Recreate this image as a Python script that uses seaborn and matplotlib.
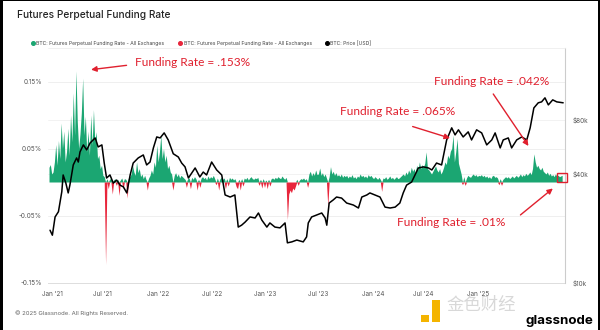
import numpy as np
import pandas as pd
import matplotlib
matplotlib.use("Agg")
import matplotlib.pyplot as plt
from matplotlib.lines import Line2D
from matplotlib.patches import Rectangle, FancyArrowPatch
from matplotlib.transforms import blended_transform_factory
import seaborn as sns

sns.set_theme(style="white")
plt.rcParams["font.family"] = ["Inter", "DejaVu Sans"]

# ---------------- data ----------------
# x axis: days since 2020-12-01
funding_step_days = 4
funding_pct = [
    # Dec 2020 - Feb 2021
    0.022, 0.026, 0.012, 0.015, 0.030, 0.056, 0.025, 0.062, 0.035, 0.088,
    0.050, 0.076, 0.030, 0.045, 0.080, 0.040, 0.100, 0.060, 0.133, 0.070,
    # Feb - May 2021
    0.166, 0.090, 0.050, 0.072, 0.103, 0.155, 0.070, 0.098, 0.045, 0.076,
    0.040, 0.100, 0.055, 0.108, 0.060, 0.075, 0.035, 0.040, 0.020, 0.025,
    # May - Jul 2021
    0.010, 0.008, -0.123, 0.005, -0.010, 0.004, 0.006, -0.018, 0.003, 0.005,
    -0.005, 0.004, -0.020, 0.003, 0.006, -0.010, 0.005, 0.004, -0.024, 0.006,
    # Jul - Oct 2021
    0.008, 0.012, 0.025, 0.015, 0.010, 0.030, 0.014, 0.020, 0.008, 0.012,
    0.005, 0.010, 0.004, -0.012, 0.006, 0.010, 0.018, 0.012, 0.030, 0.022,
    # Oct 2021 - Jan 2022
    0.055, 0.030, 0.045, 0.070, 0.035, 0.050, 0.030, 0.040, 0.020, 0.025,
    0.015, 0.012, -0.012, 0.010, 0.014, 0.008, 0.012, 0.006, 0.010, 0.008,
    # Jan - Mar 2022
    0.006, 0.004, -0.008, 0.005, 0.006, -0.010, 0.007, 0.004, 0.008, 0.005,
    -0.012, 0.004, -0.008, 0.006, 0.008, 0.005, 0.007, 0.003, 0.009, 0.005,
    # Mar - Jun 2022
    0.008, 0.006, 0.010, 0.005, -0.004, 0.006, -0.012, 0.005, 0.007, 0.004,
    0.006, -0.010, 0.005, -0.006, 0.007, 0.004, 0.006, 0.003, 0.005, -0.007,
    # Jun - Aug 2022
    -0.010, 0.004, -0.012, 0.005, -0.006, 0.006, 0.004, 0.007, 0.003, 0.006,
    0.008, 0.005, 0.004, 0.006, 0.005, 0.007, -0.005, 0.004, -0.009, 0.005,
    # Sep - Nov 2022
    -0.008, 0.003, -0.010, 0.004, -0.006, 0.005, 0.006, 0.004, 0.007, 0.005,
    0.008, 0.006, 0.005, 0.009, 0.006, 0.004, 0.007, -0.056, -0.018, -0.012,
    # Nov 2022 - Feb 2023
    -0.016, -0.009, -0.012, -0.006, 0.004, -0.005, 0.003, 0.005, 0.004, 0.006,
    0.003, 0.005, -0.008, 0.012, 0.016, 0.009, 0.014, 0.010, 0.018, 0.011,
    # Feb - Apr 2023
    0.012, 0.021, 0.010, 0.014, 0.008, 0.012, 0.006, -0.036, 0.008, 0.023,
    0.012, 0.016, 0.010, 0.014, 0.009, 0.011, 0.008, 0.012, 0.007, 0.010,
    # Apr - Jul 2023
    0.008, 0.010, 0.006, 0.009, 0.007, 0.011, 0.006, 0.008, 0.005, 0.009,
    0.007, 0.012, 0.008, 0.010, 0.007, 0.009, 0.006, 0.011, 0.008, 0.010,
    # Jul - Oct 2023
    0.007, 0.005, 0.008, 0.006, 0.004, 0.007, 0.004, -0.014, 0.006, 0.005,
    0.008, 0.004, 0.006, 0.009, 0.005, 0.007, 0.004, 0.006, 0.008, 0.005,
    # Oct - Dec 2023
    0.006, 0.008, 0.010, 0.012, 0.009, 0.015, 0.011, 0.018, 0.013, 0.022,
    0.016, 0.020, 0.014, 0.025, 0.018, 0.030, 0.020, 0.026, 0.022, 0.028,
    # Dec 2023 - Mar 2024
    0.045, 0.020, 0.018, 0.015, 0.012, 0.016, 0.020, 0.024, 0.018, 0.015,
    0.020, 0.012, 0.016, 0.022, 0.030, 0.026, 0.040, 0.035, 0.046, 0.050,
    # Mar - May 2024
    0.070, 0.030, 0.045, 0.065, 0.028, 0.020, 0.012, -0.004, 0.008, -0.005,
    0.006, 0.010, 0.008, 0.007, 0.010, 0.012, 0.009, 0.011, 0.008, 0.010,
    # Jun - Aug 2024
    0.009, 0.011, 0.008, 0.010, 0.007, 0.009, 0.006, 0.008, 0.005, 0.009,
    0.010, 0.007, 0.008, 0.006, -0.004, 0.005, -0.005, 0.004, 0.006, 0.008,
    # Aug - Nov 2024
    0.006, 0.008, 0.005, 0.007, 0.009, 0.006, 0.008, 0.010, 0.007, 0.009,
    0.012, 0.008, 0.011, 0.009, 0.013, 0.010, 0.012, 0.015, 0.011, 0.020,
    # Nov 2024 - Jan 2025
    0.042, 0.030, 0.022, 0.025, 0.020, 0.018, 0.022, 0.016, 0.014, 0.012,
    0.015, 0.010, 0.013, 0.009, 0.011, 0.008, 0.012, 0.009, 0.010, 0.008,
    0.009, 0.010,
]

price_day = [
    3, 10, 18, 28, 38, 42, 50, 57, 62, 72, 82, 87, 92, 102, 112, 122, 137, 146,
    157, 164, 171, 181, 191, 201, 211, 221, 231, 241, 250, 265, 280, 290, 300,
    310, 320, 330, 342, 354, 369, 384, 394, 404, 414, 424, 434, 448, 458, 468,
    483, 498, 513, 523, 538, 552, 562, 572, 582, 597, 612, 622, 632, 647, 656,
    671, 686, 701, 708, 721, 736, 755, 765, 770, 780, 795, 810, 820, 825, 832,
    844, 854, 869, 884, 904, 919, 929, 944, 953, 983, 998, 1013, 1028, 1042,
    1052, 1062, 1077, 1097, 1112, 1127, 1137, 1151, 1166, 1181, 1196, 1206,
    1216, 1230, 1245, 1255, 1270, 1285, 1300, 1315, 1325, 1340, 1349, 1364,
    1374, 1389, 1404, 1419, 1429, 1440, 1453, 1463, 1473, 1483, 1496, 1508,
    1527,
]
price_usd = [
    19500, 18300, 23100, 24700, 31900, 39500, 35600, 31400, 34700, 44900,
    49100, 46600, 53000, 58000, 54400, 59400, 63400, 56500, 58000, 46000,
    38000, 39500, 35600, 37000, 34700, 33900, 31400, 39500, 46000, 49100,
    51000, 44900, 46600, 55800, 64200, 63400, 67600, 61800, 51800, 49700,
    46000, 43800, 38000, 40500, 43200, 38500, 41000, 39500, 46600, 42100,
    39500, 30600, 29800, 30600, 20300, 20800, 21600, 23100, 22800, 24300,
    22200, 20300, 21400, 20300, 20100, 21400, 16600, 16800, 17200, 16800,
    17900, 21400, 23100, 23700, 24300, 22800, 20800, 27600, 28700, 29800,
    29400, 27600, 26900, 25900, 29800, 30600, 31400, 29800, 26200, 25900,
    26200, 27600, 31400, 34700, 36100, 43200, 43800, 43200, 42100, 46000,
    44900, 61800, 72100, 65900, 70300, 64200, 68500, 61800, 70300, 67600,
    58000, 61800, 67600, 55800, 61800, 63400, 55800, 61800, 64200, 61800,
    72100, 93000, 99300, 100500, 105800, 96700, 103100, 100500, 99300,
]

pct_ticks = [0.15, 0.05, -0.05, -0.15]
pct_labels = ["0.15%", "0.05%", "-0.05%", "-0.15%"]
usd_ticks = [10000, 40000, 80000]
usd_labels = ["$10k", "$40k", "$80k"]
x_tick_day = [9, 160, 324, 484, 642, 799, 962, 1111, 1274]
x_tick_labels = ["Jan '21", "Jul '21", "Jan '22", "Jul '22", "Jan '23",
                 "Jul '23", "Jan '24", "Jul '24", "Jan '25"]

legend_labels = ["BTC: Futures Perpetual Funding Rate - All Exchanges",
                 "BTC: Futures Perpetual Funding Rate - All Exchanges",
                 "BTC: Price [USD]"]
annotations = ["Funding Rate = .153%", "Funding Rate = .065%",
               "Funding Rate = .042%", "Funding Rate = .01%"]

# ---------------- figure ----------------
W, H = 600, 330
GREEN = "#1ba672"
RED = "#e8253b"
ANN = "#e0202e"
GRAY = "#555555"

fig = plt.figure(figsize=(W / 100, H / 100), dpi=100)
fig.patch.set_facecolor("white")

def fx(x):
    return x / W

def fy(y):
    return 1 - y / H

L, R, T, B = 48, 564.5, 48, 282.5
ax = fig.add_axes([fx(L), fy(B), (R - L) / W, (B - T) / H])
ax.set_facecolor("white")
ax2 = ax.twinx()

# grid lines (under everything, on the lower axes)
for yv in pct_ticks:
    ax.axhline(yv, color="#ececec", lw=0.6, zorder=0)
usd_grid_tf = blended_transform_factory(ax.transAxes, ax2.transData)
for yv in usd_ticks:
    ax.add_line(Line2D([0, 1], [yv, yv], transform=usd_grid_tf,
                       color="#f0f0f0", lw=0.6, zorder=0))

fdf = pd.DataFrame({"day": np.arange(len(funding_pct)) * funding_step_days,
                    "rate": funding_pct})
pos = fdf["rate"].clip(lower=0)
neg = fdf["rate"].clip(upper=0)
ax.fill_between(fdf["day"], 0, pos, facecolor=GREEN, lw=0, zorder=2)
ax.fill_between(fdf["day"], 0, neg, facecolor=RED, lw=0, zorder=2)

ax.set_xlim(-3, 1531)
ax.set_ylim(-0.15, 0.20)
ax.set_yticks(pct_ticks)
ax.set_yticklabels(pct_labels)
ax.set_xticks(x_tick_day)
ax.set_xticklabels(x_tick_labels)
ax.tick_params(axis="both", length=0, labelsize=4.6, colors=GRAY)
ax.tick_params(axis="y", pad=4.5)
ax.tick_params(axis="x", pad=6)
for s in ["left", "top", "right"]:
    ax.spines[s].set_visible(False)
ax.spines["bottom"].set_color("#dddddd")
ax.spines["bottom"].set_linewidth(0.7)

pdf = pd.DataFrame({"day": price_day, "price": price_usd})
sns.lineplot(data=pdf, x="day", y="price", ax=ax2, color="black", lw=1.1,
             zorder=5)
ax2.set_yscale("log")
ax2.set_ylim(10000, 200000)
ax2.set_yticks(usd_ticks)
ax2.set_yticklabels(usd_labels)
ax2.minorticks_off()
ax2.set_ylabel("")
ax2.set_xlabel("")
ax.set_xlabel("")
ax2.tick_params(axis="y", length=0, labelsize=4.6, colors=GRAY, pad=5.5)
for s in ["left", "top", "bottom"]:
    ax2.spines[s].set_visible(False)
ax2.spines["right"].set_color("#cccccc")
ax2.spines["right"].set_linewidth(0.8)
ax2.set_xlim(-3, 1531)

# top frame line of chart area
fig.add_artist(Line2D([fx(L), fx(R)], [fy(T), fy(T)], color="#eeeeee", lw=0.6))

# title
fig.text(fx(17), fy(15), "Futures Perpetual Funding Rate", fontsize=7.3,
         fontweight="medium", color="#222222", va="center", ha="left")

# legend
leg_x = [32.7, 180, 326.7]
leg_c = [GREEN, RED, "black"]
for lx, lc, lt in zip(leg_x, leg_c, legend_labels):
    fig.add_artist(Line2D([fx(lx)], [fy(43.3)], marker="o", ms=2.6, color=lc,
                          lw=0))
    fig.text(fx(lx + 3.5), fy(43.3), lt, fontsize=3.65, color="#444444",
             va="center", ha="left")

# annotations
ann_font = dict(fontsize=8.6, color=ANN, family=["Lato", "DejaVu Sans"],
                va="center", ha="left")
fig.text(fx(135), fy(63), annotations[0], **ann_font)
fig.text(fx(340), fy(111), annotations[1], **ann_font)
fig.text(fx(434), fy(81.7), annotations[2], **ann_font)
fig.text(fx(397), fy(222.7), annotations[3], **ann_font)

arrows = [((129.3, 65), (88.3, 70)), ((410, 125.7), (452.7, 139)),
          ((491.7, 91.7), (530, 148.3)), ((518.3, 216.7), (555, 186.7))]
for (x0, y0), (x1, y1) in arrows:
    fig.add_artist(FancyArrowPatch(
        (fx(x0), fy(y0)), (fx(x1), fy(y1)), transform=fig.transFigure,
        arrowstyle="-|>,head_length=3.2,head_width=1.6", color=ANN, lw=1.0))

fig.add_artist(Rectangle((fx(556.5), fy(181.5)), (567 - 556.5) / W,
                         (181.5 - 173) / H, transform=fig.transFigure,
                         fill=False, edgecolor=ANN, lw=1.0))

# footer
fig.text(fx(15), fy(313), "\u00a9 2025 Glassnode. All Rights Reserved.",
         fontsize=4.3, color="#666666", va="center", ha="left")
fig.text(fx(526), fy(321), "glassnode", fontsize=9.6, fontweight="bold",
         color="black", va="center", ha="left")
fig.add_artist(Rectangle((fx(421), fy(322)), 8 / W, 7 / H,
                         transform=fig.transFigure, color="#f4b400", lw=0))
fig.add_artist(Rectangle((fx(432), fy(322)), 8 / W, 22 / H,
                         transform=fig.transFigure, color="#f4b400", lw=0))
fig.text(fx(446), fy(305), "\u91d1\u8272\u8d22\u7ecf", fontsize=12.5,
         color="#d8d8d8", family=["Noto Sans CJK SC"], va="center",
         ha="left")

# black side frame
fig.add_artist(Rectangle((0, 0), 2.5 / W, 1, transform=fig.transFigure,
                         color="black", lw=0))
fig.add_artist(Rectangle((1 - 2.5 / W, 0), 2.5 / W, 1,
                         transform=fig.transFigure, color="black", lw=0))
fig.add_artist(Rectangle((0, 1 - 1 / H), 1, 1 / H, transform=fig.transFigure,
                         color="black", lw=0))

fig.savefig("out.png", dpi=100)
